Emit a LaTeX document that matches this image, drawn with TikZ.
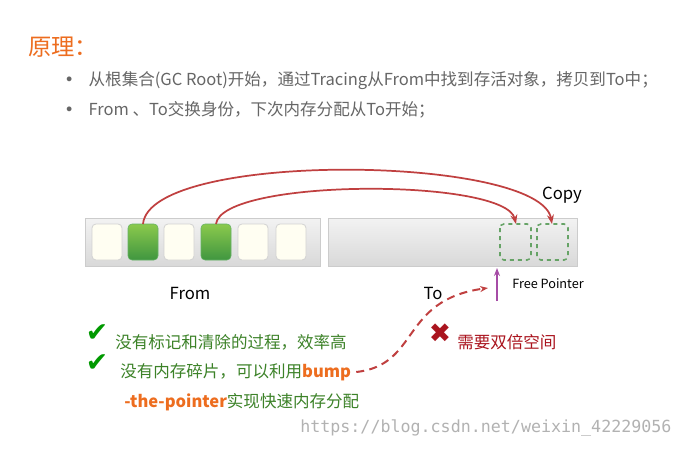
\documentclass[tikz,border=0pt]{standalone}
\usepackage{fontspec}
\setmainfont{Noto Sans CJK SC}
\newfontfamily\symfont{DejaVu Sans}
\newfontfamily\monofont{DejaVu Sans Mono}
\usetikzlibrary{arrows.meta}
\definecolor{orangeT}{RGB}{237,109,31}
\definecolor{greenT}{RGB}{60,130,40}
\definecolor{redT}{RGB}{192,64,64}
\definecolor{darkredT}{RGB}{170,20,30}
\tikzset{
  bar/.style={draw=gray!40,top color=gray!10,bottom color=gray!30,line width=0.6pt},
  cell/.style={draw=gray!35,fill=black!3!yellow!5,rounded corners=3pt,line width=0.6pt},
  live/.style={draw=green!50!black!60,top color=green!50!yellow!70!black!70,bottom color=green!45!black!75,rounded corners=3pt},
  slot/.style={draw=green!40!black!60,dashed,line width=1.2pt,rounded corners=3pt},
  copyarc/.style={draw=redT,line width=1.3pt,-{Stealth[length=7pt]}},
  txt/.style={inner sep=0pt,anchor=west}
}
\begin{document}
\begin{tikzpicture}[x=0.75pt,y=-0.75pt]
\useasboundingbox[fill=white] (0,0) rectangle (681,449);

% heading and bullets
\node[txt,text=orangeT,font=\fontsize{17.5}{20}\selectfont] (title) at (28,47) {原理：};
\node[txt,text=gray!80!black,font=\fontsize{12.4}{14}\selectfont] (b1) at (64,81) {{\symfont•}\hspace{11pt}从根集合(GC Root)开始，通过Tracing从From中找到存活对象，拷贝到To中；};
\node[txt,text=gray!80!black,font=\fontsize{12.4}{14}\selectfont] (b2) at (64,110) {{\symfont•}\hspace{11pt}From 、To交换身份，下次内存分配从To开始；};

% from space
\draw[bar] (85,218) rectangle (320,266);
\foreach \x in {92,164,238,276}
  \draw[cell] (\x,224) rectangle ++(30,36);
\draw[live] (128,224) rectangle ++(30,36);
\draw[live] (201,224) rectangle ++(30,36);
\coordinate (g1) at (143,224);
\coordinate (g2) at (216,224);

% to space
\draw[bar] (328,218) rectangle (577,266);
\draw[slot] (500,224) rectangle ++(31,36);
\draw[slot] (537,224) rectangle ++(31,36);
\coordinate (s1) at (516,224);
\coordinate (s2) at (552,224);

\draw[copyarc] (g1) .. controls (150,150) and (540,155) .. (s2);
\draw[copyarc] (g2) .. controls (222,178) and (505,178) .. (s1);

\node[font=\fontsize{12.5}{14}\selectfont] (copy) at (562,195) {Copy};
\node[font=\fontsize{12.5}{14}\selectfont] (from) at (190,293) {From};
\node[font=\fontsize{12.5}{14}\selectfont] (to) at (433,293) {To};
\node[txt,font=\fontsize{9.5}{11}\selectfont] (fp) at (512,284) {Free Pointer};
\coordinate (fpb) at (497,301);
\coordinate (fpt) at (497,268);
\draw[draw=violet!70,line width=1.5pt,-{Stealth[length=6pt]}] (fpb) -- (fpt);

% advantages
\node[text=green!60!black,font=\symfont\fontsize{20}{22}\selectfont] (ck1) at (97,333) {✔};
\node[text=green!60!black,font=\symfont\fontsize{20}{22}\selectfont] (ck2) at (97,363) {✔};
\node[txt,text=greenT,font=\fontsize{12.4}{14}\selectfont] (a1) at (115,342) {没有标记和清除的过程，效率高};
\node[txt,text=greenT,font=\fontsize{12.4}{14}\selectfont] (a2) at (120,372) {没有内存碎片，可以利用\textcolor{orangeT}{\bfseries bump}};
\node[txt,text=greenT,font=\fontsize{12.4}{14}\selectfont] (a3) at (124,402) {\textcolor{orangeT}{\bfseries -the-pointer}实现快速内存分配};

% disadvantage
\node[text=darkredT,font=\symfont\fontsize{20}{22}\selectfont] (cross) at (440,333) {✖};
\node[txt,text=darkredT,font=\fontsize{12.4}{14}\selectfont] (d1) at (457,342) {需要双倍空间};
\draw[draw=redT,line width=1.5pt,dash pattern=on 6pt off 4pt,-{Stealth[length=6pt]}]
  (a2.east) ++(5,0) .. controls (420,365) and (400,300) .. (488,288);

\node[txt,text=gray!60,font=\monofont\fontsize{12.5}{14}\selectfont] (wm) at (300,428) {https://blog.csdn.net/weixin\_42229056};
\end{tikzpicture}
\end{document}
